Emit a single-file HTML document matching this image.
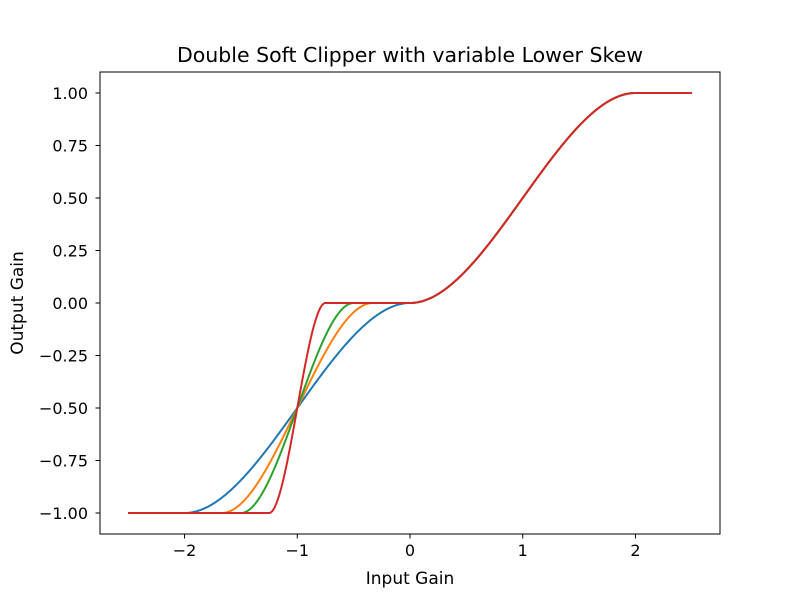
<!DOCTYPE html>
<html><head><meta charset="utf-8"><style>
body{margin:0;background:#fff}
svg{display:block;font-family:"DejaVu Sans","Liberation Sans",sans-serif}
</style></head><body>
<svg id="c" width="800" height="600">
<rect x="0" y="0" width="800" height="600" fill="#fff"/>
<text x="410" y="62" text-anchor="middle" font-size="20.5">Double Soft Clipper with variable Lower Skew</text>
<g id="plot"></g>
<rect x="100" y="72" width="620" height="462" fill="none" stroke="#000" stroke-width="1"/>
<g id="xt"></g><g id="yt"></g>
<text x="410" y="584" text-anchor="middle" font-size="17">Input Gain</text>
<text x="0" y="0" transform="translate(23,303) rotate(-90)" text-anchor="middle" font-size="17">Output Gain</text>
</svg>
<script>
const xTicks = [-2, -1, 0, 1, 2];
const xTickLabels = ["\u22122", "\u22121", "0", "1", "2"];
const yTicks = [-1, -0.75, -0.5, -0.25, 0, 0.25, 0.5, 0.75, 1];
const yTickLabels = ["\u22121.00", "\u22120.75", "\u22120.50", "\u22120.25", "0.00", "0.25", "0.50", "0.75", "1.00"];
const lowerSkews = [1, 0.67, 0.5, 0.25];
const seriesColors = ["#1f77b4", "#ff7f0e", "#2ca02c", "#d62728"];
const xRange = [-2.5, 2.5];

const NS = "http://www.w3.org/2000/svg";
const sx = v => 410 + v * 112.727;
const sy = v => 303 - v * 210;
function clip(t){ if(t<=-1) return -1; if(t>=1) return 1; return 1.5*t-0.5*t*t*t; }
function f(x, w){
  if (x >= 0) return 0.5 + 0.5*clip(x-1);
  return -0.5 + 0.5*clip((x+1)/w);
}
const plot = document.getElementById('plot');
lowerSkews.forEach((w, i) => {
  let d = "";
  const N = 1000;
  for (let k = 0; k <= N; k++) {
    const x = xRange[0] + (xRange[1]-xRange[0])*k/N;
    d += (k ? "L" : "M") + sx(x).toFixed(2) + "," + sy(f(x, w)).toFixed(2);
  }
  const p = document.createElementNS(NS, 'path');
  p.setAttribute('d', d);
  p.setAttribute('fill', 'none');
  p.setAttribute('stroke', seriesColors[i]);
  p.setAttribute('stroke-width', '2');
  
  
  plot.appendChild(p);
});
const xt = document.getElementById('xt');
xTicks.forEach((v, i) => {
  const l = document.createElementNS(NS, 'line');
  l.setAttribute('x1', sx(v)); l.setAttribute('x2', sx(v));
  l.setAttribute('y1', 534); l.setAttribute('y2', 538.5);
  l.setAttribute('stroke', '#000'); l.setAttribute('stroke-width', '1');
  
  
  xt.appendChild(l);
  const t = document.createElementNS(NS, 'text');
  t.setAttribute('x', sx(v)); t.setAttribute('y', 556);
  t.setAttribute('text-anchor', 'middle'); t.setAttribute('font-size', '16');
  t.textContent = xTickLabels[i];
  
  
  xt.appendChild(t);
});
const yt = document.getElementById('yt');
yTicks.forEach((v, i) => {
  const l = document.createElementNS(NS, 'line');
  l.setAttribute('x1', 95.5); l.setAttribute('x2', 100);
  l.setAttribute('y1', sy(v)); l.setAttribute('y2', sy(v));
  l.setAttribute('stroke', '#000'); l.setAttribute('stroke-width', '1');
  
  
  yt.appendChild(l);
  const t = document.createElementNS(NS, 'text');
  t.setAttribute('x', 88); t.setAttribute('y', sy(v) + 6);
  t.setAttribute('text-anchor', 'end'); t.setAttribute('font-size', '16');
  t.textContent = yTickLabels[i];
  
  
  yt.appendChild(t);
});
</script>
</body></html>
